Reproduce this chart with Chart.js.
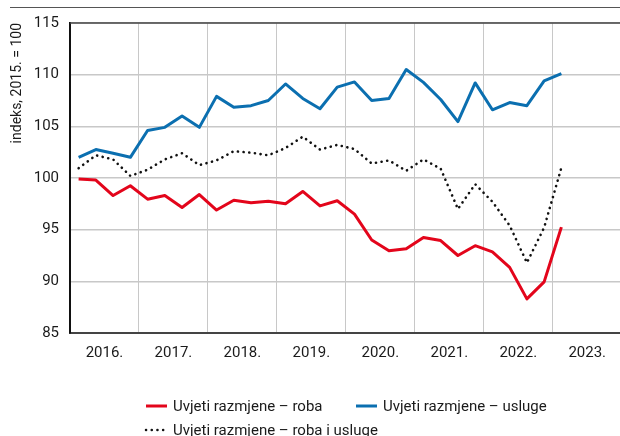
<!DOCTYPE html>
<html>
<head>
<meta charset="utf-8">
<script src="https://cdn.jsdelivr.net/npm/chart.js@4/dist/chart.umd.min.js"></script>
<style>
  html, body { margin: 0; padding: 0; background: #fff; }
  #wrap { width: 620px; height: 436px; position: relative; }
</style>
</head>
<body>
<div id="wrap"><canvas id="c" width="620" height="436"></canvas></div>
<script>
// Terms of trade, quarterly, 2016 Q1 – 2023 Q1 (index, 2015. = 100)
const yearLabels = ['2016.', '2017.', '2018.', '2019.', '2020.', '2021.', '2022.', '2023.'];
const firstYear = 2016;

const goods = [99.9, 99.8, 98.3, 99.25, 97.95, 98.3, 97.15, 98.4, 96.9, 97.85, 97.6, 97.75,
  97.5, 98.7, 97.3, 97.8, 96.5, 94.0, 92.95, 93.15, 94.25, 93.95, 92.5, 93.45, 92.85, 91.35,
  88.3, 89.95, 95.25];
const services = [102.0, 102.75, 102.4, 102.0, 104.6, 104.9, 106.0, 104.9, 107.9, 106.85,
  107.0, 107.5, 109.1, 107.7, 106.7, 108.8, 109.3, 107.5, 107.7, 110.5, 109.25, 107.6, 105.45,
  109.2, 106.6, 107.3, 107.0, 109.4, 110.1];
const goodsAndServices = [100.95, 102.2, 101.8, 100.2, 100.8, 101.8, 102.4, 101.25, 101.7,
  102.6, 102.45, 102.2, 102.9, 104.0, 102.75, 103.2, 102.8, 101.4, 101.7, 100.7, 101.8, 100.9,
  97.0, 99.4, 97.7, 95.4, 91.8, 95.2, 101.0];

const seriesNames = ['Uvjeti razmjene – roba', 'Uvjeti razmjene – usluge', 'Uvjeti razmjene – roba i usluge'];
const yTicks = [85, 90, 95, 100, 105, 110, 115];

const FONT = 'Roboto, "Liberation Sans", sans-serif';
const RED = '#e3051b';
const BLUE = '#0b6fb0';
const DOT = '#111111';
const GRID = '#c8c8c8';

// quarter i sits in the middle of its quarter on a quarter-count axis
const toPoints = arr => arr.map((v, i) => ({ x: i + 0.5, y: v }));

// frame lines and the two-column legend under the plot
const decor = {
  id: 'decor',
  afterDraw(chart) {
    const { ctx, chartArea: a } = chart;
    ctx.save();
    // thin rule at the very top
    ctx.strokeStyle = '#555';
    ctx.lineWidth = 1.2;
    ctx.beginPath(); ctx.moveTo(10, 7.5); ctx.lineTo(620, 7.5); ctx.stroke();
    // top edge of the plot
    ctx.strokeStyle = '#444';
    ctx.lineWidth = 1.5;
    ctx.beginPath(); ctx.moveTo(a.left, a.top); ctx.lineTo(a.right, a.top); ctx.stroke();

    // legend
    const items = [
      { ds: chart.data.datasets[0], x: 145, y: 406 },
      { ds: chart.data.datasets[1], x: 355, y: 406 },
      { ds: chart.data.datasets[2], x: 145, y: 430 }
    ];
    ctx.font = '15px ' + FONT;
    ctx.textBaseline = 'middle';
    ctx.fillStyle = '#1a1a1a';
    items.forEach(it => {
      ctx.strokeStyle = it.ds.borderColor;
      ctx.lineWidth = it.ds.borderDash ? 2.5 : 3;
      ctx.lineCap = it.ds.borderDash ? 'round' : 'butt';
      ctx.setLineDash(it.ds.borderDash || []);
      ctx.beginPath(); ctx.moveTo(it.x + 1, it.y); ctx.lineTo(it.x + 22, it.y); ctx.stroke();
      ctx.setLineDash([]);
      ctx.fillText(it.ds.label, it.x + 28, it.y + 1);
    });
    ctx.restore();
  }
};

new Chart(document.getElementById('c'), {
  type: 'line',
  data: {
    datasets: [
      { label: seriesNames[0], data: toPoints(goods), borderColor: RED, borderWidth: 3,
        pointRadius: 0, tension: 0, borderJoinStyle: 'round', order: 1 },
      { label: seriesNames[1], data: toPoints(services), borderColor: BLUE, borderWidth: 3,
        pointRadius: 0, tension: 0, borderJoinStyle: 'round', order: 2 },
      { label: seriesNames[2], data: toPoints(goodsAndServices), borderColor: DOT, borderWidth: 2.6,
        borderDash: [0.1, 5.6], borderCapStyle: 'round', pointRadius: 0, tension: 0, order: 0 }
    ]
  },
  options: {
    responsive: false,
    animation: false,
    layout: { padding: { top: 23, right: 0, bottom: 0, left: 0 } },
    plugins: { legend: { display: false }, tooltip: { enabled: false } },
    scales: {
      x: {
        type: 'linear',
        min: 0,
        max: 31.9,
        afterBuildTicks(scale) {
          const t = [];
          for (let v = 0; v <= 30; v += 2) t.push({ value: v });
          scale.ticks = t;
        },
        afterFit(scale) { scale.height = 103; },
        grid: {
          color: c => (c.tick && c.tick.value % 4 === 0) ? GRID : 'rgba(0,0,0,0)',
          lineWidth: 1,
          drawTicks: false
        },
        border: { display: true, color: '#444', width: 2 },
        ticks: {
          autoSkip: false,
          maxRotation: 0,
          padding: 11,
          color: '#1a1a1a',
          font: { family: FONT, size: 15 },
          callback: v => (v % 4 === 2) ? yearLabels[(v - 2) / 4] : ''
        }
      },
      y: {
        min: 85,
        max: 115,
        afterBuildTicks(scale) { scale.ticks = yTicks.map(v => ({ value: v })); },
        afterFit(scale) { scale.width = 70; },
        grid: { color: GRID, lineWidth: 1.5, drawTicks: false },
        border: { display: true, color: '#111', width: 2 },
        ticks: {
          padding: 11,
          color: '#1a1a1a',
          font: { family: FONT, size: 15 }
        },
        title: {
          display: true,
          text: 'indeks, ' + (firstYear - 1) + '. = 100',
          align: 'end',
          color: '#1a1a1a',
          font: { family: FONT, size: 14 },
          padding: { top: 9, bottom: 0 }
        }
      }
    }
  },
  plugins: [decor]
});
</script>
</body>
</html>
